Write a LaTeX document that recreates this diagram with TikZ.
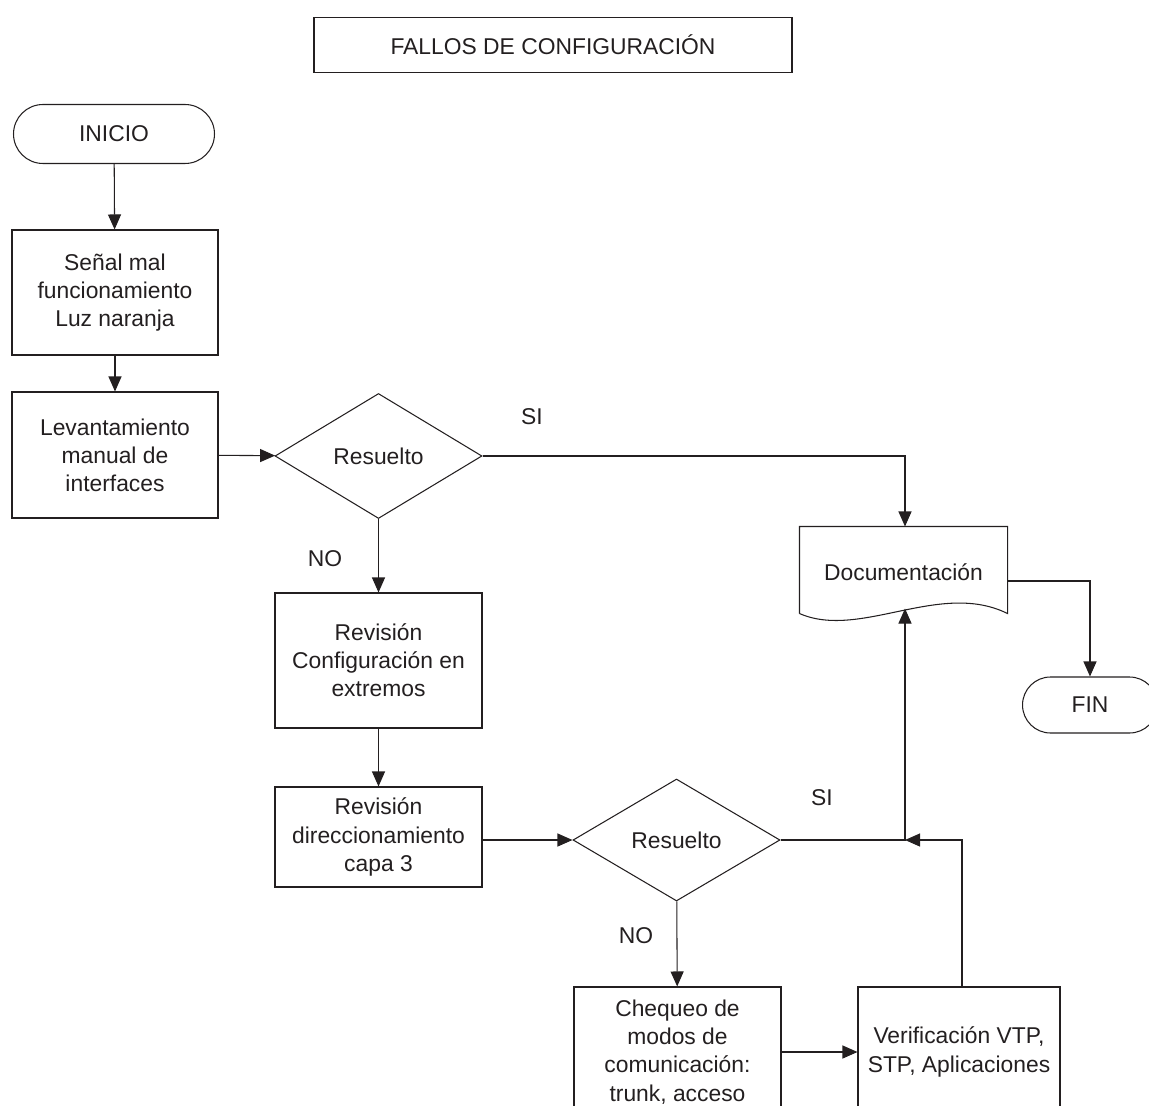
\documentclass[tikz,border=0pt]{standalone}
\usepackage{fontspec}
\setmainfont{Liberation Sans}
\usepackage{tikz}
\usetikzlibrary{shapes.geometric,shapes.misc,arrows.meta}
\definecolor{ink}{HTML}{231F20}

\begin{document}
\begin{tikzpicture}[line width=0.6pt, draw=ink, text=ink,
    font=\fontsize{13}{16}\selectfont,
    box/.style={rectangle, draw, align=center, inner sep=2pt},
    term/.style={rounded rectangle, draw, inner sep=2pt},
    dec/.style={diamond, draw, inner sep=0pt},
    flow/.style={-{Triangle[length=0.3cm,width=0.26cm]}}]
    \useasboundingbox (0,0) rectangle (22.98,-22.12);

    \node[box, minimum width=9.56cm, minimum height=1.1cm] (tit) at (11.06,-0.9) {FALLOS DE CONFIGURACIÓN};

    \node[term, minimum width=4.16cm, minimum height=1.18cm] (ini) at (2.28,-2.68) {INICIO};
    \node[box, minimum width=4.12cm, minimum height=2.5cm] (n1) at (2.3,-5.85) {Señal mal\\funcionamiento\\Luz naranja};
    \node[box, minimum width=4.12cm, minimum height=2.52cm] (n2) at (2.3,-9.1) {Levantamiento\\manual de\\interfaces};
    \node[dec, minimum width=4.14cm, minimum height=2.5cm] (d1) at (7.57,-9.12) {Resuelto};
    \node[box, minimum width=4.14cm, minimum height=2.7cm] (n3) at (7.57,-13.21) {Revisión\\Configuración en\\extremos};
    \node[box, minimum width=4.14cm, minimum height=2.0cm] (n4) at (7.57,-16.74) {Revisión\\direccionamiento\\capa 3};
    \node[dec, minimum width=4.14cm, minimum height=2.44cm] (d2) at (13.53,-16.8) {Resuelto};
    \node[box, minimum width=4.14cm, minimum height=2.6cm] (n5) at (13.55,-21.04) {Chequeo de\\modos de\\comunicación:\\trunk, acceso};
    \node[box, minimum width=4.04cm, minimum height=2.6cm] (n6) at (19.18,-21.04) {Verificación VTP,\\STP, Aplicaciones};

    % documento con borde inferior ondulado
    \node[minimum width=4.14cm, minimum height=1.72cm, inner sep=0pt] (doc) at (18.07,-11.4) {};
    \node (doct) at (18.07,-11.44) {Documentación};
    \draw (doc.south west) -- (doc.north west) -- (doc.north east) -- (doc.south east)
        .. controls (18.8,-11.6) and (17.2,-12.8) .. (doc.south west);
    \node[term, minimum width=2.84cm, minimum height=1.12cm] (fin) at (21.8,-14.1) {FIN};

    \coordinate (j1) at (18.1,-16.8);

    \draw[flow] (ini) -- (n1);
    \draw[flow] (n1) -- (n2);
    \draw[flow] (n2) -- (d1);
    \draw[flow] (d1.east) -| (doc.north -| j1);
    \draw[flow] (d1) -- (n3);
    \draw[flow] (n3) -- (n4);
    \draw[flow] (n4.east |- d2.west) -- (d2.west);
    \draw[flow] (d2.east) -- (j1) -- ([yshift=0.1cm]doc.south -| j1);
    \draw[flow] (d2) -- (n5);
    \draw[flow] (n5) -- (n6);
    \draw[flow] (n6.north -| 19.24,0) |- (j1);
    \draw[flow] ([yshift=-0.22cm]doc.east) -| (fin.north);

    \node at (10.64,-8.34) {SI};
    \node at (6.5,-11.18) {NO};
    \node at (16.44,-15.96) {SI};
    \node at (12.72,-18.72) {NO};
\end{tikzpicture}
\end{document}
